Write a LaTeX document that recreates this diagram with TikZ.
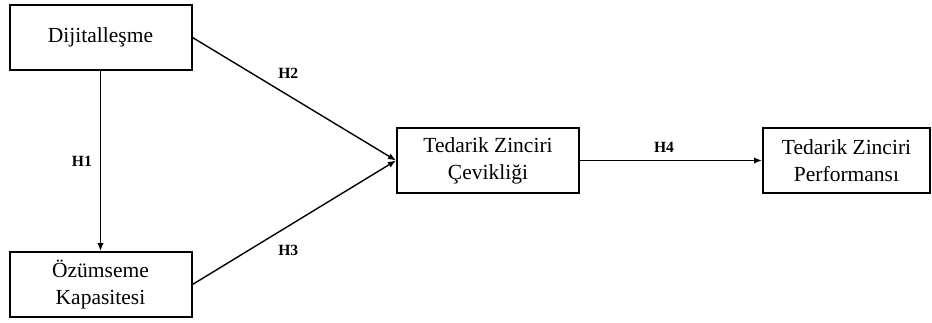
\documentclass[tikz,border=0pt]{standalone}
\usepackage{fontspec}
\setmainfont{Liberation Serif}
\usetikzlibrary{positioning,arrows.meta}

\tikzset{
  konstrukt/.style={draw, line width=1pt, minimum width=91pt, minimum height=32.5pt,
    align=center, inner sep=0pt, font=\fontsize{10.75}{13.5}\selectfont},
  yol/.style={line width=0.7pt, -{Latex[length=4pt,width=3.2pt]}},
  hipotez/.style={inner sep=0pt, font=\fontsize{7.8}{9}\selectfont\bfseries},
}

\begin{document}
\begin{tikzpicture}
        \useasboundingbox (0,0) rectangle (466pt,-161pt);
          \node [konstrukt] (dij) at (50.25pt,-18.75pt) {Dijitalleşme};
          \node [konstrukt, below=90pt of dij] (ozu) {Özümseme\\Kapasitesi};
          \node [konstrukt] (cev) at (244pt,-80.25pt) {Tedarik Zinciri\\Çevikliği};
          \node [konstrukt, minimum width=83.5pt, right=91pt of cev] (per) {Tedarik Zinciri\\Performansı};

          \draw [yol] (dij) -- node [hipotez, midway, left=4pt] {H1} (ozu);
          \draw [yol] (dij.east) -- node [hipotez, midway, above=10pt, xshift=-3pt] {H2} (cev.west);
          \draw [yol] (ozu.east) -- node [hipotez, midway, below=11pt, xshift=-3pt] {H3} (cev.west);
          \draw [yol] (cev) -- node [hipotez, midway, above=3.5pt, xshift=-3.5pt] {H4} (per);
      \end{tikzpicture}
\end{document}
